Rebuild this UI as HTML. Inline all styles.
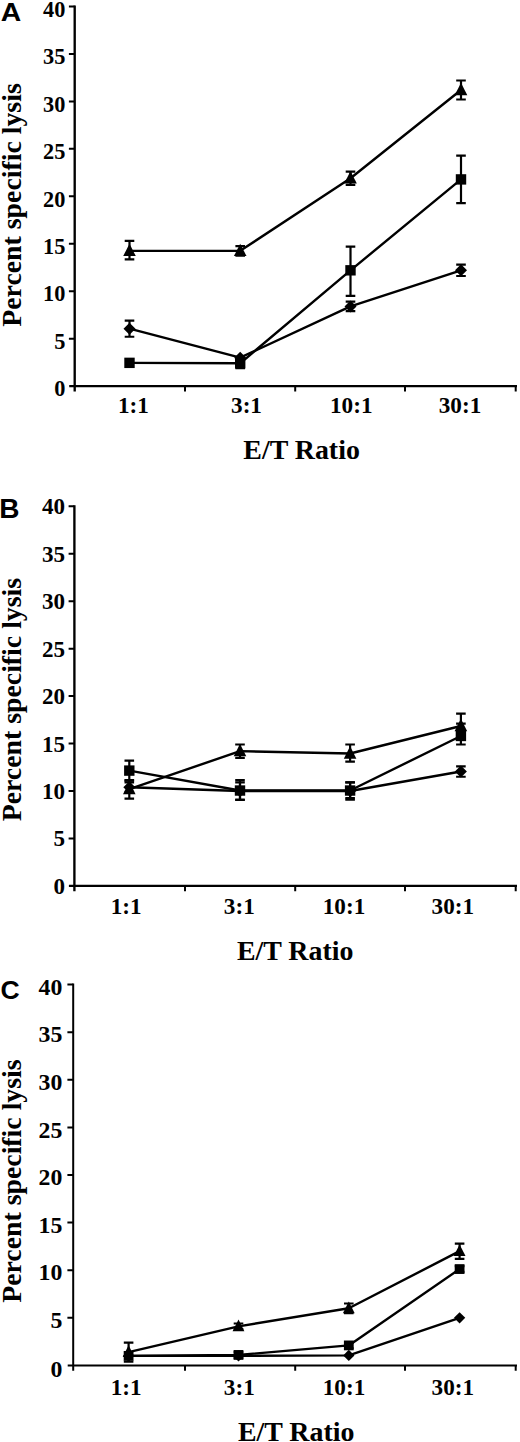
<!DOCTYPE html>
<html><head><meta charset="utf-8"><title>Figure</title>
<style>
html,body{margin:0;padding:0;background:#fff;}
svg{display:block;}
text{font-family:"Liberation Serif","Times New Roman",serif;font-weight:bold;fill:#000;}
.pl{font-family:"Liberation Sans",Arial,sans-serif;font-weight:bold;}
.tk{text-anchor:end;}
.xc{font-size:23.2px;text-anchor:middle;}
.xl{font-size:27.9px;text-anchor:middle;}
.yl{font-size:27.8px;text-anchor:middle;}
</style></head><body>
<svg width="520" height="1442" viewBox="0 0 520 1442">
<rect width="520" height="1442" fill="#fff"/>

<g>
<text class="pl" font-size="26.5" transform="translate(0.8,21.2) scale(1.07,1)">A</text>
<g stroke="#000" stroke-width="2.35" fill="none">
<path d="M74.7,5.5 V391.4"/>
<path d="M69.2,386.1 H517"/>
</g>
<g stroke="#000" stroke-width="2.0" fill="none">
<path d="M68.9,6.5 H74.7 M68.9,53.95 H74.7 M68.9,101.4 H74.7 M68.9,148.85 H74.7 M68.9,196.3 H74.7 M68.9,243.75 H74.7 M68.9,291.2 H74.7 M68.9,338.65 H74.7"/>
<path d="M185,386.1 V391.4 M295.2,386.1 V391.4 M405,386.1 V391.4 M515.7,386.1 V391.4"/>
</g>
<g class="tk" font-size="23.5">
<text transform="translate(65.4,16.7) scale(0.95,1)">40</text>
<text transform="translate(65.4,64.15) scale(0.95,1)">35</text>
<text transform="translate(65.4,111.6) scale(0.95,1)">30</text>
<text transform="translate(65.4,159.05) scale(0.95,1)">25</text>
<text transform="translate(65.4,206.5) scale(0.95,1)">20</text>
<text transform="translate(65.4,253.95) scale(0.95,1)">15</text>
<text transform="translate(65.4,301.4) scale(0.95,1)">10</text>
<text transform="translate(65.4,348.85) scale(0.95,1)">5</text>
<text transform="translate(65.4,396.3) scale(0.95,1)">0</text>
</g>
<text class="xc" x="133.4" y="413.1">1:1</text>
<text class="xc" x="246.5" y="413.1">3:1</text>
<text class="xc" x="351.25" y="413.1">10:1</text>
<text class="xc" x="460" y="413.1">30:1</text>
<text class="xl" x="301.6" y="459.1">E/T Ratio</text>
<text class="yl" transform="translate(20.5,205) rotate(-90)">Percent specific lysis</text>
<polyline points="129.5,250.87 240.2,250.87 350.5,178.27 461,90.01" fill="none" stroke="#000" stroke-width="2.4" stroke-linejoin="round"/>
<path d="M129.5,240.9 V259.41 M124.7,240.9 H134.3 M124.7,259.41 H134.3 M240.2,246.12 V255.61 M235.4,246.12 H245 M235.4,255.61 H245 M350.5,171.63 V184.91 M345.7,171.63 H355.3 M345.7,184.91 H355.3 M461,80.52 V99.5 M456.2,80.52 H465.8 M456.2,99.5 H465.8" stroke="#000" stroke-width="2.2" fill="none"/>
<g fill="#000">
<polygon points="129.5,243.67 135.8,256.07 123.2,256.07"/>
<polygon points="240.2,243.67 246.5,256.07 233.9,256.07"/>
<polygon points="350.5,171.07 356.8,183.47 344.2,183.47"/>
<polygon points="461,82.81 467.3,95.21 454.7,95.21"/>
</g>
<polyline points="129.5,362.85 240.2,363.32 350.5,270.32 461,179.41" fill="none" stroke="#000" stroke-width="2.4" stroke-linejoin="round"/>
<path d="M240.2,358.58 V368.07 M235.4,358.58 H245 M235.4,368.07 H245 M350.5,246.6 V295.95 M345.7,246.6 H355.3 M345.7,295.95 H355.3 M461,155.68 V203.13 M456.2,155.68 H465.8 M456.2,203.13 H465.8" stroke="#000" stroke-width="2.2" fill="none"/>
<g fill="#000">
<rect x="124.3" y="357.65" width="10.4" height="10.4"/>
<rect x="235" y="358.12" width="10.4" height="10.4"/>
<rect x="345.3" y="265.12" width="10.4" height="10.4"/>
<rect x="455.8" y="174.21" width="10.4" height="10.4"/>
</g>
<polyline points="129.5,328.69 240.2,357.63 350.5,306.38 461,270.32" fill="none" stroke="#000" stroke-width="2.4" stroke-linejoin="round"/>
<path d="M129.5,320.62 V336.75 M124.7,320.62 H134.3 M124.7,336.75 H134.3 M350.5,301.64 V311.13 M345.7,301.64 H355.3 M345.7,311.13 H355.3 M461,264.63 V276.02 M456.2,264.63 H465.8 M456.2,276.02 H465.8" stroke="#000" stroke-width="2.2" fill="none"/>
<g fill="#000">
<polygon points="129.5,322.69 135.5,328.69 129.5,334.69 123.5,328.69"/>
<polygon points="240.2,351.63 246.2,357.63 240.2,363.63 234.2,357.63"/>
<polygon points="350.5,300.38 356.5,306.38 350.5,312.38 344.5,306.38"/>
<polygon points="461,264.32 467,270.32 461,276.32 455,270.32"/>
</g>
</g>
<g>
<text class="pl" font-size="27.2" transform="translate(-0.8,518.0) scale(1.03,1)">B</text>
<g stroke="#000" stroke-width="2.35" fill="none">
<path d="M74.4,505.3 V891.2"/>
<path d="M68.9,885.9 H517"/>
</g>
<g stroke="#000" stroke-width="2.0" fill="none">
<path d="M68.6,506.3 H74.4 M68.6,553.75 H74.4 M68.6,601.2 H74.4 M68.6,648.65 H74.4 M68.6,696.1 H74.4 M68.6,743.55 H74.4 M68.6,791 H74.4 M68.6,838.45 H74.4"/>
<path d="M185,885.9 V891.2 M295.2,885.9 V891.2 M405,885.9 V891.2 M515.7,885.9 V891.2"/>
</g>
<g class="tk" font-size="23.8">
<text transform="translate(65.0,514.3) scale(0.97,1)">40</text>
<text transform="translate(65.0,561.75) scale(0.97,1)">35</text>
<text transform="translate(65.0,609.2) scale(0.97,1)">30</text>
<text transform="translate(65.0,656.65) scale(0.97,1)">25</text>
<text transform="translate(65.0,704.1) scale(0.97,1)">20</text>
<text transform="translate(65.0,751.55) scale(0.97,1)">15</text>
<text transform="translate(65.0,799) scale(0.97,1)">10</text>
<text transform="translate(65.0,846.45) scale(0.97,1)">5</text>
<text transform="translate(65.0,893.9) scale(0.97,1)">0</text>
</g>
<text class="xc" x="126.2" y="913.6">1:1</text>
<text class="xc" x="239.3" y="913.6">3:1</text>
<text class="xc" x="344.0" y="913.6">10:1</text>
<text class="xc" x="452.8" y="913.6">30:1</text>
<text class="xl" x="295.2" y="959.9">E/T Ratio</text>
<text class="yl" transform="translate(20.5,699.6) rotate(-90)">Percent specific lysis</text>
<polyline points="129.3,789.1 240,751.14 350.1,753.51 460.9,725.99" fill="none" stroke="#000" stroke-width="2.4" stroke-linejoin="round"/>
<path d="M129.3,780.56 V798.59 M124.5,780.56 H134.1 M124.5,798.59 H134.1 M240,744.5 V757.79 M235.2,744.5 H244.8 M235.2,757.79 H244.8 M350.1,744.5 V761.58 M345.3,744.5 H354.9 M345.3,761.58 H354.9 M460.9,713.66 V737.38 M456.1,713.66 H465.7 M456.1,737.38 H465.7" stroke="#000" stroke-width="2.2" fill="none"/>
<g fill="#000">
<polygon points="129.3,781.9 135.6,794.3 123,794.3"/>
<polygon points="240,743.94 246.3,756.34 233.7,756.34"/>
<polygon points="350.1,746.31 356.4,758.71 343.8,758.71"/>
<polygon points="460.9,718.79 467.2,731.19 454.6,731.19"/>
</g>
<polyline points="129.3,770.6 240,790.53 350.1,790.53 460.9,735.96" fill="none" stroke="#000" stroke-width="2.4" stroke-linejoin="round"/>
<path d="M129.3,760.63 V780.09 M124.5,760.63 H134.1 M124.5,780.09 H134.1 M240,780.09 V800.02 M235.2,780.09 H244.8 M235.2,800.02 H244.8 M350.1,782.46 V798.12 M345.3,782.46 H354.9 M345.3,798.12 H354.9 M460.9,723.62 V744.5 M456.1,723.62 H465.7 M456.1,744.5 H465.7" stroke="#000" stroke-width="2.2" fill="none"/>
<g fill="#000">
<rect x="124.1" y="765.4" width="10.4" height="10.4"/>
<rect x="234.8" y="785.33" width="10.4" height="10.4"/>
<rect x="344.9" y="785.33" width="10.4" height="10.4"/>
<rect x="455.7" y="730.76" width="10.4" height="10.4"/>
</g>
<polyline points="129.3,787.2 240,791 350.1,791 460.9,771.55" fill="none" stroke="#000" stroke-width="2.4" stroke-linejoin="round"/>
<path d="M129.3,782.46 V791.95 M124.5,782.46 H134.1 M124.5,791.95 H134.1 M240,782.46 V799.54 M235.2,782.46 H244.8 M235.2,799.54 H244.8 M350.1,782.46 V799.54 M345.3,782.46 H354.9 M345.3,799.54 H354.9 M460.9,766.33 V776.77 M456.1,766.33 H465.7 M456.1,776.77 H465.7" stroke="#000" stroke-width="2.2" fill="none"/>
<g fill="#000">
<polygon points="129.3,781.2 135.3,787.2 129.3,793.2 123.3,787.2"/>
<polygon points="240,785 246,791 240,797 234,791"/>
<polygon points="350.1,785 356.1,791 350.1,797 344.1,791"/>
<polygon points="460.9,765.55 466.9,771.55 460.9,777.55 454.9,771.55"/>
</g>
</g>
<g>
<text class="pl" font-size="26.5" transform="translate(0.4,998.6) scale(1.0,1)">C</text>
<g stroke="#000" stroke-width="2.0" fill="none">
<path d="M73.2,983.6 V1370.7"/>
<path d="M67.7,1365.4 H517"/>
</g>
<g stroke="#000" stroke-width="2.0" fill="none">
<path d="M67.4,984.6 H73.2 M67.4,1032.2 H73.2 M67.4,1079.8 H73.2 M67.4,1127.4 H73.2 M67.4,1175 H73.2 M67.4,1222.6 H73.2 M67.4,1270.2 H73.2 M67.4,1317.8 H73.2"/>
<path d="M185,1365.4 V1370.7 M295.2,1365.4 V1370.7 M405,1365.4 V1370.7 M515.7,1365.4 V1370.7"/>
</g>
<g class="tk" font-size="23.8">
<text transform="translate(62.3,994.8) scale(1.0,1)">40</text>
<text transform="translate(62.3,1042.4) scale(1.0,1)">35</text>
<text transform="translate(62.3,1090) scale(1.0,1)">30</text>
<text transform="translate(62.3,1137.6) scale(1.0,1)">25</text>
<text transform="translate(62.3,1185.2) scale(1.0,1)">20</text>
<text transform="translate(62.3,1232.8) scale(1.0,1)">15</text>
<text transform="translate(62.3,1280.4) scale(1.0,1)">10</text>
<text transform="translate(62.3,1328) scale(1.0,1)">5</text>
<text transform="translate(62.3,1376.8) scale(1.0,1)">0</text>
</g>
<text class="xc" x="126.2" y="1394.8">1:1</text>
<text class="xc" x="239.3" y="1394.8">3:1</text>
<text class="xc" x="344.0" y="1394.8">10:1</text>
<text class="xc" x="452.8" y="1394.8">30:1</text>
<text class="xl" x="296.2" y="1440.5">E/T Ratio</text>
<text class="yl" transform="translate(20.5,1181.1) rotate(-90)">Percent specific lysis</text>
<polyline points="128.6,1352.07 238.5,1326.37 348.8,1308.28 459.6,1251.16" fill="none" stroke="#000" stroke-width="2.4" stroke-linejoin="round"/>
<path d="M128.6,1342.55 V1361.59 M123.8,1342.55 H133.4 M123.8,1361.59 H133.4 M238.5,1323.51 V1329.22 M233.7,1323.51 H243.3 M233.7,1329.22 H243.3 M348.8,1303.52 V1313.04 M344,1303.52 H353.6 M344,1313.04 H353.6 M459.6,1243.54 V1258.78 M454.8,1243.54 H464.4 M454.8,1258.78 H464.4" stroke="#000" stroke-width="2.2" fill="none"/>
<g fill="#000">
<polygon points="128.6,1345.3 134.52,1356.96 122.68,1356.96"/>
<polygon points="238.5,1319.6 244.42,1331.26 232.58,1331.26"/>
<polygon points="348.8,1301.51 354.72,1313.17 342.88,1313.17"/>
<polygon points="459.6,1244.39 465.52,1256.05 453.68,1256.05"/>
</g>
<polyline points="128.6,1355.88 238.5,1354.93 348.8,1345.41 459.6,1269.06" fill="none" stroke="#000" stroke-width="2.4" stroke-linejoin="round"/>
<path d="M238.5,1352.07 V1357.78 M233.7,1352.07 H243.3 M233.7,1357.78 H243.3 M348.8,1342.55 V1348.26 M344,1342.55 H353.6 M344,1348.26 H353.6 M459.6,1266.2 V1271.91 M454.8,1266.2 H464.4 M454.8,1271.91 H464.4" stroke="#000" stroke-width="2.2" fill="none"/>
<g fill="#000">
<rect x="123.71" y="1350.99" width="9.78" height="9.78"/>
<rect x="233.61" y="1350.04" width="9.78" height="9.78"/>
<rect x="343.91" y="1340.52" width="9.78" height="9.78"/>
<rect x="454.71" y="1264.17" width="9.78" height="9.78"/>
</g>
<polyline points="128.6,1355.88 238.5,1355.88 348.8,1355.4 459.6,1317.8" fill="none" stroke="#000" stroke-width="2.4" stroke-linejoin="round"/>
<g fill="#000">
<polygon points="128.6,1350.24 134.24,1355.88 128.6,1361.52 122.96,1355.88"/>
<polygon points="238.5,1350.24 244.14,1355.88 238.5,1361.52 232.86,1355.88"/>
<polygon points="348.8,1349.76 354.44,1355.4 348.8,1361.04 343.16,1355.4"/>
<polygon points="459.6,1312.16 465.24,1317.8 459.6,1323.44 453.96,1317.8"/>
</g>
</g>
</svg></body></html>
